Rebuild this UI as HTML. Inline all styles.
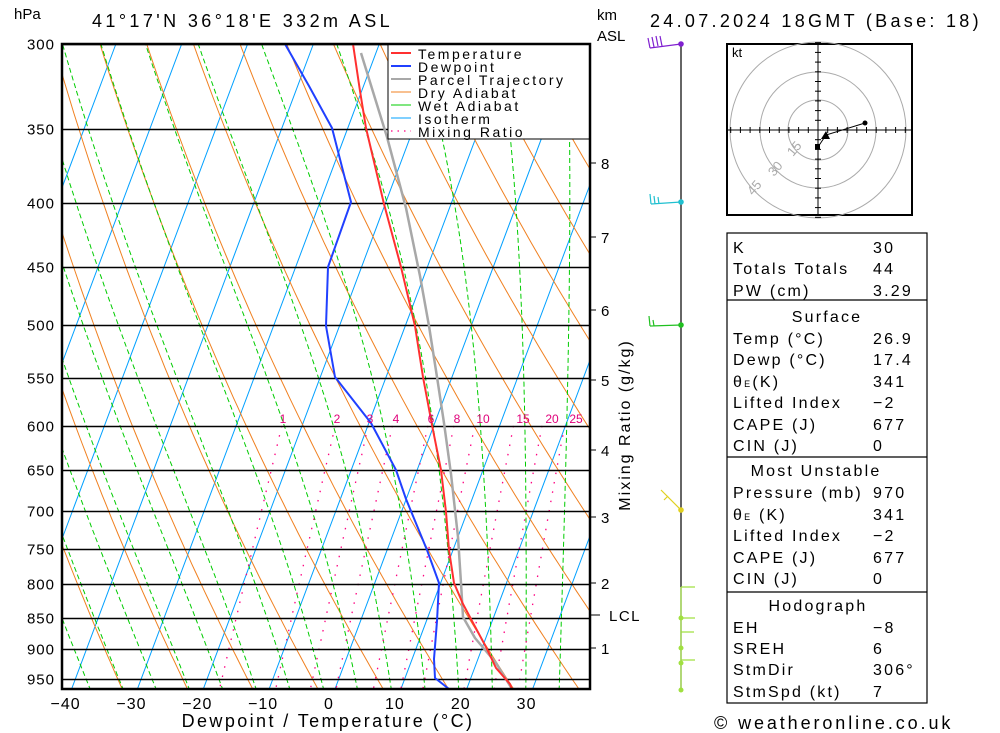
<!DOCTYPE html>
<html><head><meta charset="utf-8">
<style>
html,body{margin:0;padding:0;background:#fff;}
svg{display:block;font-family:"Liberation Sans",sans-serif;}
</style></head>
<body>
<svg id="s" width="1000" height="733" viewBox="0 0 1000 733" xmlns="http://www.w3.org/2000/svg">
<defs><clipPath id="pc"><rect x="62" y="44" width="528" height="645"/></clipPath></defs>
<rect width="1000" height="733" fill="#fff"/>
<g id="bg" clip-path="url(#pc)" fill="none"></g>
<g id="pl"></g>
<g clip-path="url(#pc)" fill="none" stroke-linejoin="round">
<polyline stroke="#a8a8a8" stroke-width="2.5" points="361,53 387,137 406,208 420,276 429,326 437,377 444,423 451,474 458,537 461,583 463,617 475,638 496,663 512,689"/>
<polyline stroke="#2040ff" stroke-width="2" points="285,44 309,86 332,128 351,202 328,267 326,326 335,377 371,423 396,470 406,499 427,550 439,583 437,621 434,659 435,678 449,689"/>
<polyline stroke="#ff3030" stroke-width="2" points="353,44 360,91 366,128 384,204 401,267 415,326 423,377 432,425 441,470 446,512 449,550 454,583 463,604 472,621 486,647 496,668 510,684 512,689"/>
</g>
<!-- legend -->
<rect x="388" y="44" width="202" height="95" fill="#fff" stroke="#000" stroke-width="1"/>
<g stroke-width="2">
<line x1="391" y1="53" x2="411" y2="53" stroke="#ff3030"/>
<line x1="391" y1="66" x2="411" y2="66" stroke="#2040ff"/>
<line x1="391" y1="79" x2="411" y2="79" stroke="#a8a8a8"/>
<line x1="391" y1="92" x2="411" y2="92" stroke="#f08020" stroke-width="1"/>
<line x1="391" y1="105" x2="411" y2="105" stroke="#00cc00" stroke-width="1"/>
<line x1="391" y1="118" x2="411" y2="118" stroke="#00a0ff" stroke-width="1"/>
<line x1="391" y1="131" x2="411" y2="131" stroke="#ff0080" stroke-width="1.2" stroke-dasharray="1.5,5"/>
</g>
<g font-size="14" letter-spacing="2.5" fill="#000">
<text x="418" y="59">Temperature</text>
<text x="418" y="72">Dewpoint</text>
<text x="418" y="85">Parcel Trajectory</text>
<text x="418" y="98">Dry Adiabat</text>
<text x="418" y="111">Wet Adiabat</text>
<text x="418" y="124">Isotherm</text>
<text x="418" y="137">Mixing Ratio</text>
</g>
<rect x="62" y="44" width="528" height="645" fill="none" stroke="#000" stroke-width="2.5"/>
<g id="tx" fill="#000"></g>
<!-- titles -->
<text x="14" y="19" font-size="15">hPa</text>
<text x="92" y="27" font-size="18" letter-spacing="3.4">41°17'N 36°18'E 332m ASL</text>
<text x="650" y="27" font-size="18" letter-spacing="3.3">24.07.2024 18GMT (Base: 18)</text>
<text x="597" y="20" font-size="15">km</text>
<text x="597" y="41" font-size="15">ASL</text>
<text x="328" y="727" font-size="18" text-anchor="middle" letter-spacing="2.4">Dewpoint / Temperature (°C)</text>
<text transform="translate(630,425) rotate(-90)" font-size="16" text-anchor="middle" letter-spacing="2">Mixing Ratio (g/kg)</text>
<!-- wind column -->
<line x1="681" y1="44" x2="681" y2="690" stroke="#000" stroke-width="1.2"/>
<g stroke-width="1.2" fill="none">
<path d="M681,44 L650,48 M650,48 L648,38 M654,47 L652,37 M658,46 L656,36 M662,46 L660,36" stroke="#8020d0"/>
<path d="M681,202 L651,204 M651,204 L650,194 M655,204 L654,196 M659,204 L658,197" stroke="#20c0d0"/>
<path d="M681,325 L650,326 M650,326 L649,316 M654,326 L653,320" stroke="#20c020"/>
<path d="M681,510 L661,490 M668,496 L664,500" stroke="#e0d020"/>
<path d="M681,587 L695,587 M681,618 L695,618 M681,632 L694,632 M681,660 L695,660 M681,587 L681,690" stroke="#a0e040"/>
</g>
<g fill="#a0e040"><circle cx="681" cy="618" r="2.5"/><circle cx="681" cy="648" r="2.5"/><circle cx="681" cy="663" r="2.5"/><circle cx="681" cy="690" r="2.5"/></g>
<circle cx="681" cy="44" r="2.8" fill="#8020d0"/><circle cx="681" cy="202" r="2.8" fill="#20c0d0"/><circle cx="681" cy="325" r="2.8" fill="#20c020"/><circle cx="681" cy="510" r="2.8" fill="#e0d020"/>
<!-- hodograph -->
<rect x="727" y="44" width="185" height="171" fill="#fff" stroke="#000" stroke-width="2"/>
<g fill="none" stroke="#aaa" stroke-width="1">
<circle cx="818" cy="130" r="30"/><circle cx="818" cy="130" r="58"/><circle cx="818" cy="130" r="88"/>
</g>
<g id="hod" stroke="#000" stroke-width="1"></g>
<g fill="#aaa" font-size="13">
<text transform="translate(793,157) rotate(-50)">15</text>
<text transform="translate(774,177) rotate(-50)">30</text>
<text transform="translate(753,196) rotate(-50)">45</text>
</g>
<text x="732" y="57" font-size="13">kt</text>
<polyline points="818,147 826,135 865,123" fill="none" stroke="#000" stroke-width="1"/>
<circle cx="865" cy="123" r="2.5"/><polygon points="821,139 826,131 830,139"/><rect x="815" y="144" width="5" height="5"/>
<!-- table -->
<g fill="none" stroke="#000" stroke-width="1.2">
<rect x="727" y="233" width="200" height="470"/>
<line x1="727" y1="300" x2="927" y2="300"/>
<line x1="727" y1="457" x2="927" y2="457"/>
<line x1="727" y1="592" x2="927" y2="592"/>
</g>
<g font-size="16" fill="#000" letter-spacing="2.2">
<text x="733" y="253">K</text><text x="873" y="253">30</text>
<text x="733" y="274">Totals Totals</text><text x="873" y="274">44</text>
<text x="733" y="296">PW (cm)</text><text x="873" y="296">3.29</text>
<text x="827" y="322" text-anchor="middle">Surface</text>
<text x="733" y="344">Temp (°C)</text><text x="873" y="344">26.9</text>
<text x="733" y="365">Dewp (°C)</text><text x="873" y="365">17.4</text>
<text x="733" y="387">θ<tspan font-size="9">E</tspan>(K)</text><text x="873" y="387">341</text>
<text x="733" y="408">Lifted Index</text><text x="873" y="408">−2</text>
<text x="733" y="430">CAPE (J)</text><text x="873" y="430">677</text>
<text x="733" y="451">CIN (J)</text><text x="873" y="451">0</text>
<text x="816" y="476" text-anchor="middle">Most Unstable</text>
<text x="733" y="498">Pressure (mb)</text><text x="873" y="498">970</text>
<text x="733" y="520">θ<tspan font-size="9">E</tspan> (K)</text><text x="873" y="520">341</text>
<text x="733" y="541">Lifted Index</text><text x="873" y="541">−2</text>
<text x="733" y="563">CAPE (J)</text><text x="873" y="563">677</text>
<text x="733" y="584">CIN (J)</text><text x="873" y="584">0</text>
<text x="818" y="611" text-anchor="middle">Hodograph</text>
<text x="733" y="633">EH</text><text x="873" y="633">−8</text>
<text x="733" y="654">SREH</text><text x="873" y="654">6</text>
<text x="733" y="675">StmDir</text><text x="873" y="675">306°</text>
<text x="733" y="697">StmSpd (kt)</text><text x="873" y="697">7</text>
</g>
<text x="714" y="729" font-size="18" letter-spacing="2.9">© weatheronline.co.uk</text>
<script>
(function(){
var NS="http://www.w3.org/2000/svg";
function el(par,tag,at,txt){var e=document.createElementNS(NS,tag);for(var k in at)e.setAttribute(k,at[k]);if(txt!==undefined)e.textContent=txt;par.appendChild(e);return e;}
function Y(p){return 44+551*Math.log(p/300);}
function X(T,y){return 335+6.586*T+0.375*(689-y);}
var bg=document.getElementById('bg'),pl=document.getElementById('pl'),tx=document.getElementById('tx');
function poly(pts,st){var s=pts.map(function(q){return q[0].toFixed(1)+','+q[1].toFixed(1);}).join(' ');var a={points:s};for(var k in st)a[k]=st[k];el(bg,'polyline',a);}
for(var T=-120;T<=50;T+=10){var y0=689,y1=44;poly([[X(T,y0),y0],[X(T,y1),y1]],{stroke:'#00a0ff','stroke-width':1});}
for(var k=-9;k<=23;k++){var th=273.15+10*k,pts=[];for(var p=290;p<=970;p+=10){var y=Y(p);var T=th*Math.pow(p/1000,0.2857)-273.15;pts.push([X(T,y),y]);}poly(pts,{stroke:'#f08020','stroke-width':1});}
function es(T){return 6.112*Math.exp(17.67*T/(T+243.5));}
for(var tw=-40;tw<=35;tw+=5){var T=tw,pts=[];for(var p=1000;p>=290;p-=2){if(p<=970){var y=Y(p);pts.push([X(T,y),y]);}
var Tk=T+273.15,e=es(T),rs=0.622*e/(p-e);var d=(287*Tk+2.5e6*rs)/(p*(1004+2.5e6*2.5e6*rs*0.622/(287*Tk*Tk)));T-=2*d;}
poly(pts,{stroke:'#00cc00','stroke-width':1,'stroke-dasharray':'5,3'});}
var ws=[1,2,3,4,6,8,10,15,20,25];
ws.forEach(function(w){var pts=[];for(var p=600;p<=970;p+=10){var e=w*p/(622+w),l=Math.log(e/6.112),T=243.5*l/(17.67-l),y=Y(p);pts.push([X(T,y),y]);}
poly(pts,{stroke:'#ff0080','stroke-width':1.3,'stroke-dasharray':'1.5,8'});});
var lx={1:283,2:337,3:370,4:396,6:431,8:457,10:483,15:523,20:552,25:576};
ws.forEach(function(w){el(tx,'text',{x:lx[w],y:423,'font-size':12,fill:'#e0007a','text-anchor':'middle'},String(w));});
[300,350,400,450,500,550,600,650,700,750,800,850,900,950].forEach(function(p){var y=Math.round(Y(p))+0.5;
el(pl,'line',{x1:62,y1:y,x2:590,y2:y,stroke:'#000','stroke-width':1.5});
el(tx,'text',{x:55,y:y+5,'font-size':15,'text-anchor':'end','letter-spacing':1},String(p));});
for(var T=-40;T<=30;T+=10){var x=329+6.586*T;el(tx,'text',{x:x,y:709,'font-size':16,'text-anchor':'middle','letter-spacing':1},(T<0?'\u2212':'')+Math.abs(T));}
[[8,163],[7,237],[6,310],[5,380],[4,450],[3,517],[2,583],[1,648]].forEach(function(a){el(pl,'line',{x1:590,y1:a[1],x2:596,y2:a[1],stroke:'#000','stroke-width':1});el(tx,'text',{x:601,y:a[1]+6,'font-size':15},String(a[0]));});
el(pl,'line',{x1:590,y1:615,x2:600,y2:615,stroke:'#000','stroke-width':1});
el(tx,'text',{x:609,y:621,'font-size':15,'letter-spacing':1.5},'LCL');
var h=document.getElementById('hod');
el(h,'line',{x1:727,y1:130,x2:912,y2:130});el(h,'line',{x1:818,y1:44,x2:818,y2:215});
for(var i=-9;i<=9;i++){if(i==0)continue;var d=i*9.7;el(h,'line',{x1:818+d,y1:127,x2:818+d,y2:133});el(h,'line',{x1:815,y1:130+d,x2:821,y2:130+d});}
})();
</script>
</svg>
</body></html>
